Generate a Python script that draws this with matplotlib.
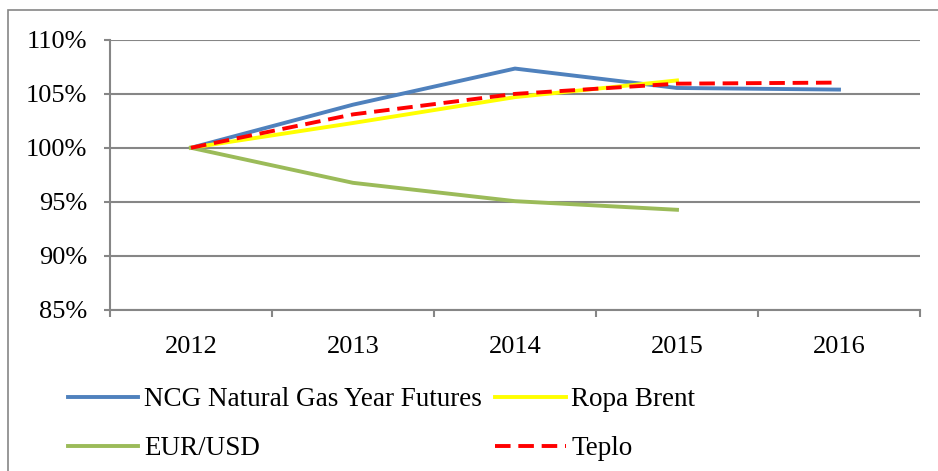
import matplotlib.pyplot as plt
from matplotlib.patches import Rectangle
from matplotlib.ticker import FuncFormatter, FixedLocator

plt.rcParams['font.family'] = ['Liberation Serif', 'DejaVu Serif']

years = ['2012', '2013', '2014', '2015', '2016']
ncg = [100.0, 104.0, 107.35, 105.55, 105.4]
brent = [100.0, 102.3, 104.7, 106.25]
eurusd = [100.0, 96.75, 95.05, 94.25]
teplo = [100.0, 103.1, 105.0, 105.95, 106.05]

W, H = 938, 471
fig = plt.figure(figsize=(W / 100, H / 100), dpi=100)
ax = fig.add_axes([110 / W, 1 - 309.5 / H, 810 / W, 269.5 / H])

# outer chart frame (cut off at right and bottom like the source)
fig.patches.append(Rectangle((8 / W, -0.1), 1.2, 1.1 - 10 / H, transform=fig.transFigure,
                             fill=False, edgecolor='#868686', linewidth=1.2))

grid = '#868686'
lw = 2.8
l_ncg, = ax.plot(range(len(ncg)), ncg, color='#4F81BD', lw=lw, label='NCG Natural Gas Year Futures')
l_brent, = ax.plot(range(len(brent)), brent, color='#FFFF00', lw=lw, label='Ropa Brent')
l_eur, = ax.plot(range(len(eurusd)), eurusd, color='#9BBB59', lw=lw, label='EUR/USD')
l_teplo, = ax.plot(range(len(teplo)), teplo, color='#FF0000', lw=lw, dashes=(4.0, 2.0), label='Teplo')

ax.set_xlim(-0.5, len(years) - 0.5)
ax.set_ylim(85, 110)
ax.set_yticks(range(85, 111, 5))
ax.yaxis.set_major_formatter(FuncFormatter(lambda v, p: f'{int(v)}%'))
ax.set_xticks(range(len(years)))
ax.set_xticklabels(years)
ax.xaxis.set_minor_locator(FixedLocator([i - 0.5 for i in range(len(years) + 1)]))

ax.grid(axis='y', color=grid, linewidth=1.5)
ax.set_axisbelow(True)
for s in ['top', 'right']:
    ax.spines[s].set_visible(False)
for s in ['left', 'bottom']:
    ax.spines[s].set_color(grid)
    ax.spines[s].set_linewidth(1.5)

fs = 19
ax.tick_params(axis='y', which='major', length=4.5, width=1.5, color=grid, pad=12, labelsize=fs)
ax.tick_params(axis='x', which='major', length=0, pad=19, labelsize=fs)
ax.tick_params(axis='x', which='minor', length=5, width=1.5, color=grid)

# legend fills column-wise, so order entries to get rows: NCG | Brent, EUR/USD | Teplo
handles = [l_ncg, l_eur, l_brent, l_teplo]
fig.legend(handles, [h.get_label() for h in handles], loc='upper left',
           bbox_to_anchor=(68 / W, 1 - 387 / H), ncol=2, frameon=False,
           fontsize=19.5, handlelength=2.6, handletextpad=0.2, columnspacing=0.5,
           labelspacing=0.9, borderpad=0, borderaxespad=0)

fig.savefig('out.png', dpi=100)
